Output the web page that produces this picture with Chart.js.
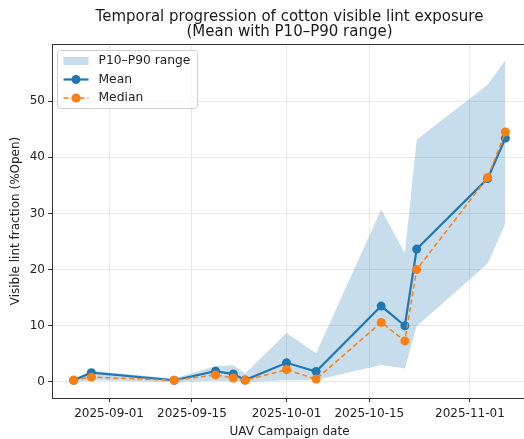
<!DOCTYPE html>
<html>
<head>
<meta charset="utf-8">
<script src="https://cdn.jsdelivr.net/npm/chart.js@4.4.1/dist/chart.umd.min.js"></script>
<style>
  html, body { margin: 0; padding: 0; background: #ffffff; overflow: hidden; }
  #wrap { width: 534px; height: 439px; }
</style>
</head>
<body>
<div id="wrap"><canvas id="c" width="534" height="439"></canvas></div>
<script>
// ---- Data ----
const campaignDates = ['2025-08-26','2025-08-29','2025-09-12','2025-09-19','2025-09-22','2025-09-24','2025-10-01','2025-10-06','2025-10-17','2025-10-21','2025-10-23','2025-11-04','2025-11-07'];
const meanValues   = [0.3, 1.65, 0.3, 1.9, 1.4, 0.35, 3.4, 1.85, 13.5, 10.0, 23.65, 36.2, 43.4];
const medianValues = [0.3, 0.85, 0.3, 1.25, 0.7, 0.3, 2.2, 0.5, 10.6, 7.3, 20.0, 36.4, 44.5];
const p90Values    = [0.5, 2.0, 0.6, 2.85, 2.95, 1.5, 8.7, 5.1, 30.7, 22.9, 43.1, 52.9, 57.3];
const p10Values    = [0.0, 0.3, 0.0, 0.2, 0.1, 0.0, 0.3, 0.35, 3.0, 2.4, 9.9, 21.1, 28.2];
const xTickLabels  = ['2025-09-01','2025-09-15','2025-10-01','2025-10-15','2025-11-01'];
const yTickValues  = [0, 10, 20, 30, 40, 50];
const titleLines   = ['Temporal progression of cotton visible lint exposure', '(Mean with P10\u2013P90 range)'];

const DAY = 86400000;
const toDay = s => Date.UTC(+s.slice(0,4), +s.slice(5,7) - 1, +s.slice(8,10)) / DAY;
const xs = campaignDates.map(toDay);
const pts = vals => vals.map((v, i) => ({ x: xs[i], y: v }));
const tickDays = xTickLabels.map(toDay);
const xSpan = xs[xs.length - 1] - xs[0];
const allY = p90Values.concat(p10Values, meanValues, medianValues);
const yLo = Math.min(...allY), yHi = Math.max(...allY), ySpan = yHi - yLo;

const BLUE = '#1f77b4', ORANGE = '#ff7f0e', BAND = 'rgba(31,119,180,0.25)';

Chart.defaults.font.family = "'DejaVu Sans', sans-serif";
Chart.defaults.color = '#222';

const framePlugin = {
  id: 'frame',
  afterDatasetsDraw(chart) {
    const a = chart.chartArea, ctx = chart.ctx;
    ctx.save();
    ctx.strokeStyle = '#333';
    ctx.lineWidth = 1;
    ctx.strokeRect(Math.round(a.left) + 0.5, Math.round(a.top) + 0.5, Math.round(a.right - a.left), Math.round(a.bottom - a.top));
    ctx.restore();
  }
};

const legendPlugin = {
  id: 'mplLegend',
  afterDraw(chart) {
    const ctx = chart.ctx, a = chart.chartArea;
    const ds = chart.data.datasets;
    const x0 = a.left + 5.5, y0 = a.top + 6.5, w = 140, h = 58;
    ctx.save();
    ctx.fillStyle = 'rgba(255,255,255,0.8)';
    ctx.strokeStyle = '#d0d0d0';
    ctx.lineWidth = 1;
    ctx.beginPath();
    ctx.roundRect(x0, y0, w, h, 3);
    ctx.fill();
    ctx.stroke();
    const hx = x0 + 6, hw = 25, tx = x0 + 41;
    const rows = [y0 + 10.5, y0 + 29, y0 + 47.5];
    ctx.font = "12.3px 'DejaVu Sans'";
    ctx.textBaseline = 'middle';
    // band
    ctx.fillStyle = BAND;
    ctx.fillRect(hx, rows[0] - 4, hw, 8);
    ctx.fillStyle = '#222';
    ctx.fillText(ds[0].label, tx, rows[0]);
    // mean
    ctx.strokeStyle = BLUE; ctx.lineWidth = 2.2; ctx.setLineDash([]);
    ctx.beginPath(); ctx.moveTo(hx, rows[1]); ctx.lineTo(hx + hw, rows[1]); ctx.stroke();
    ctx.fillStyle = BLUE; ctx.beginPath(); ctx.arc(hx + hw / 2, rows[1], 4.5, 0, Math.PI * 2); ctx.fill();
    ctx.fillStyle = '#222'; ctx.fillText(ds[2].label, tx, rows[1]);
    // median
    ctx.strokeStyle = ORANGE; ctx.lineWidth = 1.5; ctx.setLineDash([5, 3]);
    ctx.beginPath(); ctx.moveTo(hx, rows[2]); ctx.lineTo(hx + hw, rows[2]); ctx.stroke();
    ctx.setLineDash([]);
    ctx.fillStyle = ORANGE; ctx.beginPath(); ctx.arc(hx + hw / 2, rows[2], 4.5, 0, Math.PI * 2); ctx.fill();
    ctx.fillStyle = '#222'; ctx.fillText(ds[3].label, tx, rows[2]);
    ctx.restore();
  }
};

new Chart(document.getElementById('c'), {
  type: 'line',
  data: {
    datasets: [
      { label: 'P10\u2013P90 range', data: pts(p90Values), borderWidth: 0, pointRadius: 0, backgroundColor: BAND, fill: '+1', order: 3, tension: 0 },
      { label: 'P10', data: pts(p10Values), borderWidth: 0, pointRadius: 0, backgroundColor: BAND, fill: false, order: 4, tension: 0 },
      { label: 'Mean', data: pts(meanValues), borderColor: BLUE, backgroundColor: BLUE, borderWidth: 2.2, pointRadius: 4.5, pointBorderWidth: 0, pointBackgroundColor: BLUE, fill: false, order: 1, tension: 0 },
      { label: 'Median', data: pts(medianValues), borderColor: ORANGE, backgroundColor: ORANGE, borderWidth: 1.5, borderDash: [5, 3], pointRadius: 4.5, pointBorderWidth: 0, pointBackgroundColor: ORANGE, fill: false, order: 0, tension: 0 }
    ]
  },
  options: {
    responsive: false,
    animation: false,
    events: [],
    layout: { padding: { left: 0, right: 7, top: 0, bottom: 0 } },
    plugins: {
      legend: { display: false },
      tooltip: { enabled: false },
      title: {
        display: true,
        text: titleLines,
        fullSize: false,
        color: '#1a1a1a',
        font: { size: 15, weight: 'normal', lineHeight: 1.0 },
        padding: { top: 10, bottom: 4 }
      }
    },
    scales: {
      x: {
        type: 'linear',
        min: xs[0] - 0.05 * xSpan,
        max: xs[xs.length - 1] + 0.05 * xSpan,
        afterBuildTicks: s => { s.ticks = tickDays.map(v => ({ value: v })); },
        afterFit: s => { s.height = 41; },
        ticks: {
          autoSkip: false, maxRotation: 0, padding: 5, color: '#222',
          font: { size: 12 },
          callback: v => xTickLabels[tickDays.indexOf(v)]
        },
        grid: { color: '#e8e8e8', tickColor: '#333', tickLength: 4, lineWidth: 1 },
        border: { display: false },
        title: { display: true, text: 'UAV Campaign date', color: '#222', font: { size: 12 }, padding: { top: 1, bottom: 0 } }
      },
      y: {
        type: 'linear',
        min: yLo - 0.05 * ySpan,
        max: yHi + 0.05 * ySpan,
        afterBuildTicks: s => { s.ticks = yTickValues.map(v => ({ value: v })); },
        afterFit: s => { s.width = 52; },
        ticks: { padding: 3, color: '#222', font: { size: 12 } },
        grid: { color: '#e8e8e8', tickColor: '#333', tickLength: 4, lineWidth: 1 },
        border: { display: false },
        title: { display: true, text: 'Visible lint fraction (%Open)', color: '#222', font: { size: 12 }, padding: { top: 9, bottom: 0 } }
      }
    }
  },
  plugins: [framePlugin, legendPlugin]
});
</script>
</body>
</html>
